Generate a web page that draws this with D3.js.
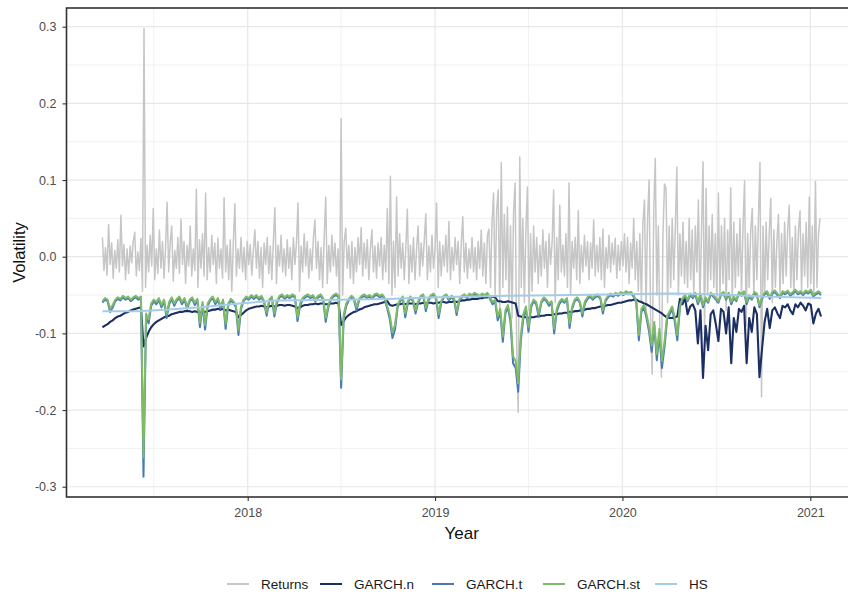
<!DOCTYPE html>
<html lang="en">
<head>
<meta charset="utf-8">
<title>Volatility</title>
<script src="https://d3js.org/d3.v7.min.js"></script>
<style>
	body { margin: 0; background: #fff; }
	svg { display: block; font-family: "Liberation Sans", Arial, sans-serif; }
	.axis text { fill: #4d4d4d; font-size: 12.5px; }
	.axis line { stroke: #333333; stroke-width: 1.1; }
	.axis path { display: none; }
</style>
</head>
<body>
<script>
	// Data. Returns: one value every 3 days, GARCH models: every 5 days
	var startDate = "2017-03-24";
	var returnsStep = 3;
	var garchStep = 5;

	var returns = [
		0.025, -0.018, 0.012, -0.024, 0.042, -0.01, 0.018, -0.028, 0.008, -0.015, 0.022, -0.02, 0.054, -0.012, 0.016, -0.03, 0.01, -0.022, 0.014, -0.008,
		0.02, 0.032, -0.025, 0.006, -0.018, 0.024, -0.045, 0.298, -0.04, 0.015, -0.02, 0.028, -0.012, 0.063, -0.03, 0.01, -0.022, 0.035, -0.015, 0.02,
		-0.028, 0.012, 0.071, -0.02, 0.018, 0.04, -0.032, 0.008, -0.015, 0.025, -0.022, 0.049, -0.01, 0.02, -0.035, 0.015, -0.012, 0.04, -0.025, 0.01,
		-0.018, 0.088, -0.04, 0.022, -0.015, 0.03, -0.025, 0.083, -0.03, 0.012, -0.02, 0.028, -0.01, 0.018, -0.035, 0.024, -0.015, 0.01, -0.028, 0.077,
		-0.02, 0.015, -0.03, 0.022, -0.045, 0.018, 0.069, -0.025, 0.01, -0.015, 0.025, -0.02, 0.012, -0.03, 0.02, -0.01, 0.016, -0.024, 0.008, 0.035,
		-0.015, 0.02, -0.028, 0.012, -0.04, 0.018, -0.01, 0.025, -0.022, 0.014, -0.03, 0.02, 0.064, -0.035, 0.015, -0.012, 0.028, -0.02, 0.01, -0.025,
		0.022, -0.015, 0.012, -0.03, 0.025, -0.01, 0.018, 0.07, -0.045, 0.014, -0.02, 0.03, -0.012, 0.02, -0.028, 0.01, -0.018, 0.025, 0.048, -0.015,
		0.02, -0.03, 0.012, -0.04, 0.025, 0.078, -0.035, 0.015, -0.02, 0.028, -0.012, 0.018, -0.025, 0.01, -0.06, 0.18, -0.05, 0.02, 0.037, -0.015,
		0.015, -0.028, 0.02, -0.035, 0.012, -0.02, 0.025, -0.01, 0.038, -0.025, 0.018, -0.015, 0.022, -0.03, 0.01, 0.035, -0.02, 0.014, -0.028, 0.018,
		-0.012, 0.025, -0.03, 0.015, -0.02, 0.063, -0.035, 0.105, -0.05, 0.02, -0.04, 0.078, -0.025, 0.03, -0.015, 0.018, -0.03, 0.012, 0.062, -0.035,
		0.015, -0.02, 0.025, -0.03, 0.01, 0.04, -0.025, 0.018, -0.012, 0.022, 0.056, -0.03, 0.014, -0.02, 0.028, -0.015, 0.01, 0.07, -0.04, 0.02,
		-0.025, 0.015, -0.012, 0.028, -0.02, 0.046, -0.03, 0.012, -0.018, 0.025, -0.01, 0.02, -0.035, 0.015, 0.052, -0.02, 0.018, -0.028, 0.01, -0.015,
		0.025, -0.02, 0.012, -0.03, 0.02, -0.015, 0.035, -0.025, 0.018, -0.035, 0.028, 0.036, -0.04, 0.045, 0.083, -0.05, 0.06, 0.087, -0.07, 0.123,
		-0.04, 0.055, -0.03, 0.065, -0.06, 0.04, -0.08, 0.06, 0.096, -0.12, -0.203, 0.13, -0.04, 0.05, -0.06, 0.035, 0.091, -0.07, 0.03, -0.045,
		0.04, -0.02, 0.025, -0.035, 0.015, -0.025, 0.035, -0.015, 0.02, -0.04, 0.03, -0.01, 0.018, 0.087, -0.06, 0.025, -0.03, 0.067, -0.02, 0.015,
		-0.025, 0.03, -0.04, 0.096, -0.05, 0.02, -0.015, 0.025, -0.03, 0.06, -0.035, 0.015, -0.02, 0.028, -0.012, 0.02, -0.03, 0.018, -0.015, 0.048,
		-0.025, 0.015, -0.02, 0.025, -0.03, 0.036, -0.04, 0.012, -0.015, 0.028, -0.02, 0.018, -0.01, 0.024, -0.028, 0.015, -0.018, 0.02, -0.012, 0.03,
		-0.02, 0.025, -0.035, 0.018, -0.015, 0.05, -0.03, 0.02, -0.045, 0.03, -0.06, 0.045, 0.074, -0.07, 0.05, 0.1, -0.09, -0.153, 0.06, 0.128,
		-0.05, 0.04, -0.1, -0.157, 0.03, 0.095, 0.089, -0.06, 0.04, -0.04, 0.05, -0.03, 0.035, 0.117, -0.05, 0.03, -0.025, 0.045, -0.035, 0.02,
		-0.04, 0.05, -0.03, 0.035, -0.05, 0.04, -0.02, 0.074, -0.06, 0.03, 0.124, -0.1, 0.089, -0.05, 0.04, -0.03, 0.055, -0.04, 0.03, -0.06,
		0.083, -0.05, 0.04, -0.035, 0.05, -0.07, 0.035, -0.03, 0.09, -0.06, 0.045, -0.04, 0.03, -0.025, 0.05, -0.05, 0.04, 0.099, -0.09, 0.03,
		-0.04, 0.035, 0.063, -0.05, 0.04, -0.03, 0.05, 0.123, -0.183, 0.04, -0.05, 0.045, -0.03, 0.03, 0.076, -0.06, 0.035, -0.04, 0.02, 0.055,
		-0.05, 0.03, -0.035, 0.045, -0.025, 0.035, 0.067, -0.04, 0.025, -0.05, 0.04, -0.03, 0.035, 0.06, -0.045, 0.03, -0.025, 0.045, -0.04, 0.078,
		-0.035, 0.04, -0.05, 0.098, -0.04, 0.03, 0.05
	];

	var garchN = [
		-0.092, -0.090, -0.088, -0.085, -0.083, -0.080, -0.078, -0.077, -0.075, -0.073, -0.072, -0.070, -0.069, -0.068, -0.067, -0.066, -0.117, -0.106, -0.098, -0.092,
		-0.088, -0.085, -0.083, -0.081, -0.079, -0.078, -0.077, -0.075, -0.074, -0.073, -0.072, -0.072, -0.071, -0.071, -0.071, -0.072, -0.071, -0.072, -0.073, -0.072,
		-0.072, -0.071, -0.070, -0.069, -0.069, -0.068, -0.069, -0.068, -0.070, -0.069, -0.070, -0.071, -0.072, -0.079, -0.076, -0.073, -0.070, -0.068, -0.067, -0.066,
		-0.065, -0.065, -0.064, -0.065, -0.066, -0.065, -0.064, -0.065, -0.064, -0.063, -0.063, -0.064, -0.063, -0.063, -0.064, -0.065, -0.067, -0.066, -0.064, -0.063,
		-0.063, -0.062, -0.062, -0.061, -0.062, -0.061, -0.061, -0.062, -0.062, -0.061, -0.061, -0.060, -0.061, -0.089, -0.084, -0.079, -0.076, -0.074, -0.072, -0.071,
		-0.069, -0.068, -0.066, -0.065, -0.064, -0.063, -0.062, -0.062, -0.061, -0.060, -0.059, -0.058, -0.063, -0.064, -0.063, -0.062, -0.062, -0.061, -0.062, -0.061,
		-0.061, -0.061, -0.062, -0.061, -0.061, -0.060, -0.061, -0.060, -0.060, -0.061, -0.060, -0.060, -0.059, -0.059, -0.060, -0.059, -0.059, -0.058, -0.059, -0.058,
		-0.057, -0.057, -0.056, -0.056, -0.055, -0.055, -0.055, -0.054, -0.054, -0.053, -0.053, -0.052, -0.052, -0.053, -0.058, -0.058, -0.059, -0.059, -0.058, -0.059,
		-0.060, -0.061, -0.077, -0.078, -0.079, -0.079, -0.080, -0.079, -0.079, -0.078, -0.078, -0.077, -0.077, -0.076, -0.076, -0.076, -0.075, -0.075, -0.074, -0.074,
		-0.073, -0.073, -0.072, -0.072, -0.071, -0.071, -0.070, -0.070, -0.069, -0.068, -0.068, -0.067, -0.067, -0.066, -0.065, -0.065, -0.064, -0.063, -0.063, -0.062,
		-0.061, -0.060, -0.060, -0.059, -0.058, -0.057, -0.057, -0.056, -0.056, -0.058, -0.059, -0.061, -0.062, -0.064, -0.066, -0.068, -0.070, -0.072, -0.074, -0.077,
		-0.079, -0.080, -0.080, -0.079, -0.078, -0.055, -0.062, -0.054, -0.075, -0.065, -0.062, -0.070, -0.113, -0.070, -0.158, -0.090, -0.122, -0.075, -0.070, -0.088,
		-0.110, -0.068, -0.072, -0.100, -0.066, -0.139, -0.080, -0.098, -0.068, -0.072, -0.064, -0.139, -0.080, -0.098, -0.066, -0.075, -0.157, -0.120, -0.085, -0.068,
		-0.093, -0.070, -0.066, -0.074, -0.080, -0.064, -0.066, -0.062, -0.070, -0.075, -0.062, -0.066, -0.060, -0.064, -0.070, -0.061, -0.063, -0.087, -0.074, -0.068,
		-0.078
	];

	var garchT = [
		-0.060, -0.056, -0.058, -0.072, -0.066, -0.058, -0.055, -0.057, -0.053, -0.056, -0.054, -0.058, -0.055, -0.053, -0.056, -0.054, -0.287, -0.078, -0.087, -0.064,
		-0.058, -0.062, -0.056, -0.066, -0.058, -0.080, -0.062, -0.055, -0.064, -0.057, -0.054, -0.062, -0.056, -0.068, -0.058, -0.055, -0.063, -0.057, -0.092, -0.062,
		-0.095, -0.064, -0.057, -0.054, -0.062, -0.056, -0.068, -0.058, -0.094, -0.064, -0.057, -0.060, -0.066, -0.102, -0.068, -0.058, -0.054, -0.056, -0.052, -0.055,
		-0.052, -0.056, -0.053, -0.060, -0.077, -0.058, -0.054, -0.078, -0.060, -0.053, -0.051, -0.055, -0.052, -0.054, -0.051, -0.053, -0.084, -0.064, -0.056, -0.053,
		-0.051, -0.054, -0.052, -0.058, -0.053, -0.051, -0.056, -0.085, -0.066, -0.056, -0.052, -0.050, -0.053, -0.171, -0.080, -0.064, -0.057, -0.053, -0.056, -0.070,
		-0.057, -0.053, -0.051, -0.054, -0.052, -0.055, -0.051, -0.050, -0.053, -0.051, -0.056, -0.068, -0.082, -0.106, -0.095, -0.066, -0.058, -0.054, -0.079, -0.060,
		-0.054, -0.058, -0.074, -0.060, -0.053, -0.051, -0.071, -0.057, -0.052, -0.050, -0.055, -0.080, -0.060, -0.053, -0.051, -0.057, -0.053, -0.056, -0.076, -0.058,
		-0.053, -0.051, -0.054, -0.050, -0.052, -0.049, -0.051, -0.053, -0.050, -0.052, -0.049, -0.055, -0.062, -0.058, -0.083, -0.072, -0.111, -0.074, -0.066, -0.085,
		-0.139, -0.145, -0.176, -0.110, -0.080, -0.068, -0.098, -0.066, -0.058, -0.062, -0.078, -0.060, -0.055, -0.058, -0.064, -0.060, -0.100, -0.072, -0.062, -0.057,
		-0.060, -0.056, -0.093, -0.068, -0.058, -0.055, -0.060, -0.078, -0.061, -0.055, -0.052, -0.056, -0.053, -0.051, -0.055, -0.074, -0.058, -0.053, -0.050, -0.052,
		-0.049, -0.051, -0.048, -0.050, -0.047, -0.049, -0.048, -0.052, -0.060, -0.109, -0.072, -0.066, -0.080, -0.098, -0.124, -0.090, -0.135, -0.100, -0.145, -0.118,
		-0.082, -0.075, -0.068, -0.085, -0.109, -0.066, -0.056, -0.052, -0.058, -0.050, -0.054, -0.049, -0.062, -0.050, -0.066, -0.055, -0.060, -0.049, -0.052, -0.056,
		-0.060, -0.050, -0.048, -0.056, -0.049, -0.062, -0.054, -0.058, -0.048, -0.051, -0.047, -0.062, -0.052, -0.056, -0.048, -0.050, -0.066, -0.055, -0.049, -0.047,
		-0.055, -0.048, -0.046, -0.050, -0.054, -0.047, -0.049, -0.046, -0.051, -0.048, -0.045, -0.049, -0.047, -0.050, -0.046, -0.048, -0.045, -0.052, -0.049, -0.047,
		-0.050
	];

	var garchSt = [
		-0.058, -0.054, -0.056, -0.068, -0.063, -0.056, -0.053, -0.055, -0.051, -0.054, -0.052, -0.056, -0.053, -0.051, -0.054, -0.052, -0.262, -0.074, -0.082, -0.061,
		-0.056, -0.059, -0.054, -0.063, -0.056, -0.075, -0.059, -0.053, -0.061, -0.055, -0.052, -0.059, -0.054, -0.065, -0.056, -0.053, -0.060, -0.055, -0.086, -0.059,
		-0.089, -0.061, -0.055, -0.052, -0.059, -0.054, -0.065, -0.056, -0.088, -0.061, -0.055, -0.058, -0.063, -0.096, -0.065, -0.056, -0.052, -0.054, -0.050, -0.053,
		-0.050, -0.054, -0.051, -0.058, -0.073, -0.056, -0.052, -0.074, -0.058, -0.051, -0.049, -0.053, -0.050, -0.052, -0.049, -0.051, -0.079, -0.061, -0.054, -0.051,
		-0.049, -0.052, -0.050, -0.056, -0.051, -0.049, -0.054, -0.080, -0.063, -0.054, -0.050, -0.048, -0.051, -0.160, -0.075, -0.061, -0.055, -0.051, -0.054, -0.066,
		-0.055, -0.051, -0.049, -0.052, -0.050, -0.053, -0.049, -0.048, -0.051, -0.049, -0.054, -0.065, -0.077, -0.099, -0.089, -0.063, -0.056, -0.052, -0.074, -0.058,
		-0.052, -0.056, -0.070, -0.058, -0.051, -0.049, -0.067, -0.055, -0.050, -0.048, -0.053, -0.075, -0.058, -0.051, -0.049, -0.055, -0.051, -0.054, -0.072, -0.056,
		-0.051, -0.049, -0.052, -0.048, -0.050, -0.047, -0.049, -0.051, -0.048, -0.050, -0.047, -0.053, -0.059, -0.056, -0.078, -0.068, -0.104, -0.070, -0.063, -0.080,
		-0.130, -0.136, -0.165, -0.103, -0.075, -0.065, -0.092, -0.063, -0.056, -0.059, -0.074, -0.058, -0.053, -0.056, -0.061, -0.058, -0.094, -0.068, -0.059, -0.055,
		-0.058, -0.054, -0.087, -0.065, -0.056, -0.053, -0.058, -0.074, -0.058, -0.053, -0.050, -0.054, -0.051, -0.049, -0.053, -0.070, -0.056, -0.051, -0.048, -0.050,
		-0.047, -0.049, -0.046, -0.048, -0.045, -0.047, -0.046, -0.050, -0.058, -0.102, -0.068, -0.063, -0.075, -0.092, -0.116, -0.085, -0.127, -0.094, -0.136, -0.111,
		-0.077, -0.071, -0.065, -0.080, -0.102, -0.063, -0.054, -0.050, -0.056, -0.048, -0.052, -0.047, -0.059, -0.048, -0.063, -0.053, -0.058, -0.047, -0.050, -0.054,
		-0.058, -0.048, -0.046, -0.054, -0.047, -0.059, -0.052, -0.056, -0.046, -0.049, -0.045, -0.059, -0.050, -0.054, -0.046, -0.048, -0.063, -0.053, -0.047, -0.045,
		-0.053, -0.046, -0.044, -0.048, -0.052, -0.045, -0.047, -0.044, -0.049, -0.046, -0.043, -0.047, -0.045, -0.048, -0.044, -0.046, -0.043, -0.050, -0.047, -0.045,
		-0.048
	];

	// historical simulation line, sparse points
	var hsDates = ["2017-03-24", "2017-06-01", "2017-08-01", "2017-10-01", "2017-12-15", "2018-03-01", "2018-07-01", "2018-10-01",
		"2019-01-01", "2019-06-01", "2019-10-01", "2020-01-01", "2020-04-01", "2020-07-01", "2020-10-01", "2021-01-22"];
	var hsValues = [-0.071, -0.071, -0.069, -0.066, -0.061, -0.057, -0.056, -0.055,
		-0.053, -0.051, -0.050, -0.049, -0.048, -0.049, -0.052, -0.054];

	var seriesNames = ["Returns", "GARCH.n", "GARCH.t", "GARCH.st", "HS"];
	var seriesColors = ["#c6c6c6", "#1c2f62", "#4a79b7", "#7dbb6a", "#a4cce8"];
	var yTicks = [-0.3, -0.2, -0.1, 0, 0.1, 0.2, 0.3];
	var yMinor = [-0.25, -0.15, -0.05, 0.05, 0.15, 0.25];
	var xTicks = ["2018-01-01", "2019-01-01", "2020-01-01", "2021-01-01"];
	var xMinor = ["2017-07-02", "2018-07-02", "2019-07-02", "2020-07-02"];

	// Layout
	var w = 848, h = 595;
	var panel = {left: 66.5, right: 857, top: 8, bottom: 497};

	var parseDate = d3.timeParse("%Y-%m-%d");
	var start = parseDate(startDate);
	var retDates = returns.map(function(d, i){ return d3.timeDay.offset(start, i * returnsStep); });
	var garchDates = garchN.map(function(d, i){ return d3.timeDay.offset(start, i * garchStep); });

	// ggplot style 5% expansion on the x range
	var first = start, last = parseDate("2021-01-22");
	var span = last - first;
	var xScale = d3.scaleTime()
		.domain([new Date(+first - span * 0.05), new Date(+last + span * 0.05)])
		.range([panel.left, panel.right]);

	var yScale = d3.scaleLinear()
		.domain([-0.3134, 0.3244])
		.range([panel.bottom, panel.top]);

	var svg = d3.select("body").append("svg")
		.attr("width", w)
		.attr("height", h);

	svg.append("defs").append("clipPath").attr("id", "clip")
		.append("rect")
		.attr("x", panel.left).attr("y", panel.top)
		.attr("width", panel.right - panel.left).attr("height", panel.bottom - panel.top);

	// grid
	var grid = svg.append("g");
	grid.selectAll(".hmin").data(yMinor).enter().append("line")
		.attr("x1", panel.left).attr("x2", panel.right)
		.attr("y1", function(d){ return yScale(d); }).attr("y2", function(d){ return yScale(d); })
		.attr("stroke", "#efefef").attr("stroke-width", 0.9);
	grid.selectAll(".vmin").data(xMinor).enter().append("line")
		.attr("y1", panel.top).attr("y2", panel.bottom)
		.attr("x1", function(d){ return xScale(parseDate(d)); }).attr("x2", function(d){ return xScale(parseDate(d)); })
		.attr("stroke", "#efefef").attr("stroke-width", 0.9);
	grid.selectAll(".hmaj").data(yTicks).enter().append("line")
		.attr("x1", panel.left).attr("x2", panel.right)
		.attr("y1", function(d){ return yScale(d); }).attr("y2", function(d){ return yScale(d); })
		.attr("stroke", "#e8e8e8").attr("stroke-width", 1.2);
	grid.selectAll(".vmaj").data(xTicks).enter().append("line")
		.attr("y1", panel.top).attr("y2", panel.bottom)
		.attr("x1", function(d){ return xScale(parseDate(d)); }).attr("x2", function(d){ return xScale(parseDate(d)); })
		.attr("stroke", "#e8e8e8").attr("stroke-width", 1.2);

	// lines
	var lineGen = d3.line()
		.x(function(d){ return xScale(d.date); })
		.y(function(d){ return yScale(d.value); });

	var plot = svg.append("g").attr("clip-path", "url(#clip)");

	function drawSeries(dates, vals, color, width){
		var pts = vals.map(function(v, i){ return {date: dates[i], value: v}; });
		plot.append("path")
			.datum(pts)
			.attr("d", lineGen)
			.attr("fill", "none")
			.attr("stroke", color)
			.attr("stroke-width", width)
			.attr("stroke-linejoin", "round");
	}

	drawSeries(retDates, returns, seriesColors[0], 1.5);
	drawSeries(garchDates, garchN, seriesColors[1], 2.1);
	drawSeries(garchDates, garchT, seriesColors[2], 2);
	drawSeries(garchDates, garchSt, seriesColors[3], 2);
	drawSeries(hsDates.map(parseDate), hsValues, seriesColors[4], 2);

	// panel border
	svg.append("rect")
		.attr("x", panel.left).attr("y", panel.top)
		.attr("width", panel.right - panel.left).attr("height", panel.bottom - panel.top)
		.attr("fill", "none")
		.attr("stroke", "#333333")
		.attr("stroke-width", 1.6);

	// axes
	var yAxis = d3.axisLeft(yScale)
		.tickValues(yTicks)
		.tickSize(4)
		.tickPadding(6)
		.tickFormat(function(d){ return d.toFixed(1); });

	var xAxis = d3.axisBottom(xScale)
		.tickValues(xTicks.map(parseDate))
		.tickSize(4)
		.tickPadding(7)
		.tickFormat(d3.timeFormat("%Y"));

	svg.append("g")
		.attr("class", "axis")
		.attr("transform", "translate(" + panel.left + ",0)")
		.call(yAxis);

	svg.append("g")
		.attr("class", "axis")
		.attr("transform", "translate(0," + panel.bottom + ")")
		.call(xAxis);

	// axis titles
	svg.append("text")
		.attr("text-anchor", "middle")
		.attr("transform", "translate(25," + ((panel.top + panel.bottom) / 2) + ") rotate(-90)")
		.attr("font-size", 16.5)
		.attr("fill", "#111")
		.text("Volatility");

	svg.append("text")
		.attr("text-anchor", "middle")
		.attr("x", (panel.left + panel.right) / 2)
		.attr("y", 539)
		.attr("font-size", 17)
		.attr("fill", "#111")
		.text("Year");

	// legend
	var legendX = [227, 320, 432, 543, 655];
	var legend = svg.append("g").attr("transform", "translate(0,584)");
	seriesNames.forEach(function(name, k){
		legend.append("line")
			.attr("x1", legendX[k]).attr("x2", legendX[k] + 22)
			.attr("y1", 0).attr("y2", 0)
			.attr("stroke", seriesColors[k])
			.attr("stroke-width", 2);
		legend.append("text")
			.attr("x", legendX[k] + 34)
			.attr("y", 4.5)
			.attr("font-size", 13.5)
			.attr("fill", "#1a1a1a")
			.text(name);
	});
</script>
</body>
</html>
